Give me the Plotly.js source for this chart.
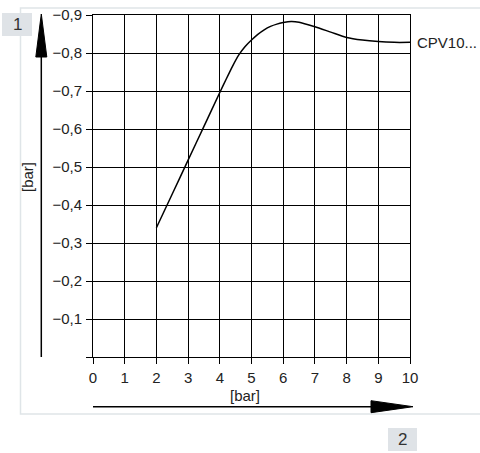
<!DOCTYPE html>
<html>
<head>
<meta charset="utf-8">
<script src="https://cdn.plot.ly/plotly-3.0.1.min.js"></script>
<style>html,body{margin:0;padding:0;background:#fff;}#chart{width:480px;height:453px;}</style>
</head>
<body>
<div id="chart"></div>
<script>
// Data
const seriesName = 'CPV10...';
const inletPressure = [2, 2.5, 3, 3.5, 4, 4.2, 4.4, 4.6, 4.8, 5, 5.2, 5.4, 5.6, 5.8, 6, 6.25, 6.5, 7, 7.5, 8, 8.5, 9, 9.5, 10];
const vacuum = [-0.34, -0.429, -0.518, -0.607, -0.696, -0.731, -0.765, -0.795, -0.817, -0.834, -0.849, -0.861, -0.870, -0.876, -0.880, -0.883, -0.881, -0.869, -0.855, -0.841, -0.834, -0.830, -0.828, -0.828];
const xTickVals = [0, 1, 2, 3, 4, 5, 6, 7, 8, 9, 10];
const xTickText = ['0', '1', '2', '3', '4', '5', '6', '7', '8', '9', '10'];
const yTickVals = [0, -0.1, -0.2, -0.3, -0.4, -0.5, -0.6, -0.7, -0.8, -0.9];
const yTickText = ['', '\u22120,1', '\u22120,2', '\u22120,3', '\u22120,4', '\u22120,5', '\u22120,6', '\u22120,7', '\u22120,8', '\u22120,9'];
const xTitle = '[bar]';
const yTitle = '[bar]';

const W = 480, H = 453;
const M = {l: 93, r: 70, t: 15, b: 96};
const PW = W - M.l - M.r, PH = H - M.t - M.b;
const px = x => (x - M.l) / PW;
const py = y => (H - M.b - y) / PH;
const FONT = 'Liberation Sans, Arial, sans-serif';
const TXT = '#222';

const trace = {
  x: inletPressure, y: vacuum, type: 'scatter', mode: 'lines', name: seriesName,
  line: {color: '#000', width: 1.5, shape: 'spline', smoothing: 0.6},
  hoverinfo: 'x+y'
};

const axisCommon = {
  showgrid: true, gridcolor: '#000', gridwidth: 1,
  showline: true, mirror: true, linecolor: '#000', linewidth: 1,
  zeroline: false, ticks: 'outside', ticklen: 6, tickcolor: '#000', tickwidth: 1,
  tickfont: {family: FONT, size: 15, color: TXT}, fixedrange: true
};

const layout = {
  width: W, height: H, margin: M,
  paper_bgcolor: '#fff', plot_bgcolor: '#fff',
  showlegend: false,
  font: {family: FONT, size: 15, color: TXT},
  xaxis: Object.assign({}, axisCommon, {
    range: [0, 10], tickmode: 'array', tickvals: xTickVals, ticktext: xTickText, ticklabelstandoff: 1
  }),
  yaxis: Object.assign({}, axisCommon, {
    range: [0, -0.9], tickmode: 'array', tickvals: yTickVals, ticktext: yTickText, ticklabelstandoff: 1
  }),
  shapes: [
    // light frame
    {type: 'rect', xref: 'paper', yref: 'paper', x0: px(20.5), x1: px(484), y0: py(414), y1: py(8),
     line: {color: '#dfe5e8', width: 1.5}, fillcolor: 'rgba(0,0,0,0)', layer: 'below'},
    // callout boxes
    {type: 'rect', xref: 'paper', yref: 'paper', x0: px(2), x1: px(32), y0: py(36), y1: py(13),
     line: {width: 0}, fillcolor: '#dfe3e7'},
    {type: 'rect', xref: 'paper', yref: 'paper', x0: px(388), x1: px(417), y0: py(451), y1: py(428),
     line: {width: 0}, fillcolor: '#dfe3e7'},
    // vertical arrow
    {type: 'line', xref: 'paper', yref: 'paper', x0: px(41.3), x1: px(41.3), y0: py(357), y1: py(50),
     line: {color: '#000', width: 1.5}},
    {type: 'path', xref: 'paper', yref: 'paper',
     path: `M ${px(41.3)} ${py(14)} L ${px(35.8)} ${py(57)} L ${px(46.8)} ${py(57)} Z`,
     fillcolor: '#000', line: {color: '#000', width: 1}},
    // horizontal arrow
    {type: 'line', xref: 'paper', yref: 'paper', x0: px(93), x1: px(375), y0: py(406.7), y1: py(406.7),
     line: {color: '#000', width: 1.5}},
    {type: 'path', xref: 'paper', yref: 'paper',
     path: `M ${px(413)} ${py(406.7)} L ${px(371)} ${py(400.7)} L ${px(371)} ${py(412.7)} Z`,
     fillcolor: '#000', line: {color: '#000', width: 1}}
  ],
  annotations: [
    {xref: 'x', yref: 'y', x: inletPressure[inletPressure.length - 1], y: vacuum[vacuum.length - 1],
     text: seriesName, showarrow: false, xanchor: 'left', yanchor: 'middle', xshift: 5,
     font: {family: FONT, size: 15, color: TXT}},
    {xref: 'paper', yref: 'paper', x: px(245), y: py(396), text: xTitle, showarrow: false,
     xanchor: 'center', yanchor: 'middle', font: {family: FONT, size: 15, color: TXT}},
    {xref: 'paper', yref: 'paper', x: px(27), y: py(177), text: yTitle, showarrow: false, textangle: -90,
     xanchor: 'center', yanchor: 'middle', font: {family: FONT, size: 15, color: TXT}},
    {xref: 'paper', yref: 'paper', x: px(17), y: py(24.5), text: '1', showarrow: false,
     xanchor: 'center', yanchor: 'middle', font: {family: FONT, size: 17, color: '#333'}},
    {xref: 'paper', yref: 'paper', x: px(402.5), y: py(439.5), text: '2', showarrow: false,
     xanchor: 'center', yanchor: 'middle', font: {family: FONT, size: 17, color: '#333'}}
  ]
};

Plotly.newPlot('chart', [trace], layout, {displayModeBar: false, staticPlot: true});
</script>
</body>
</html>
